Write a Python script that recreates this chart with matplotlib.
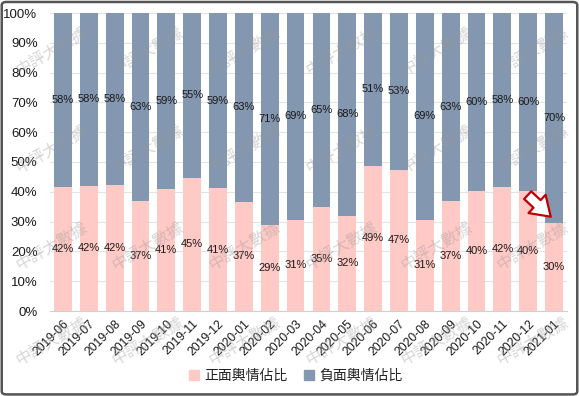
import matplotlib
matplotlib.use('Agg')
import matplotlib.pyplot as plt
import numpy as np
from matplotlib.patches import FancyBboxPatch, Patch

months = ['2019-06', '2019-07', '2019-08', '2019-09', '2019-10', '2019-11', '2019-12',
          '2020-01', '2020-02', '2020-03', '2020-04', '2020-05', '2020-06', '2020-07',
          '2020-08', '2020-09', '2020-10', '2020-11', '2020-12', '2021-01']
positive = [41.6, 42.1, 42.3, 36.9, 40.9, 44.7, 41.2, 36.6, 28.9, 30.6,
            34.8, 32.0, 48.8, 47.4, 30.6, 36.8, 40.4, 41.6, 40.2, 29.6]
negative = [58.4, 57.9, 57.7, 63.1, 59.1, 55.3, 58.8, 63.4, 71.1, 69.4,
            65.2, 68.0, 51.2, 52.6, 69.4, 63.2, 59.6, 58.4, 59.8, 70.4]

pos_color = '#FFC9C5'
neg_color = '#8497B0'
cjk = ['Noto Sans CJK TC', 'DejaVu Sans']
plt.rcParams['font.family'] = ['Liberation Sans', 'Noto Sans CJK TC', 'DejaVu Sans']

W, H = 579, 396
fig = plt.figure(figsize=(W / 100, H / 100), dpi=100)
ax = fig.add_axes([50 / W, 1 - 311 / H, 517 / W, 298 / H])

x = np.arange(len(months))
ax.bar(x, positive, width=0.69, color=pos_color, zorder=2)
ax.bar(x, negative, width=0.69, bottom=positive, color=neg_color, zorder=2)

for i in range(len(months)):
    ax.text(x[i], positive[i] / 2, f'{positive[i]:.0f}%', ha='center', va='center',
            fontsize=8, color='#1a1a1a', zorder=3)
    ax.text(x[i], positive[i] + negative[i] / 2, f'{negative[i]:.0f}%', ha='center',
            va='center', fontsize=8, color='#1a1a1a', zorder=3)

ax.set_xlim(-0.5, len(months) - 0.5)
ax.set_ylim(0, 100)
ax.set_yticks(np.arange(0, 101, 10))
ax.set_yticklabels([f'{v}%' for v in range(0, 101, 10)], fontsize=9.5, color='#1a1a1a')
ax.set_xticks(x)
ax.set_xticklabels(months, rotation=45, ha='right', rotation_mode='anchor',
                   fontsize=8.8, color='#1a1a1a')
ax.tick_params(axis='both', length=0)
ax.tick_params(axis='y', pad=9)
ax.tick_params(axis='x', pad=5)
ax.grid(axis='y', color='#E3E3E3', lw=0.8, zorder=0)
for s in ['top', 'right', 'left']:
    ax.spines[s].set_visible(False)
ax.spines['bottom'].set_color('#D0D0D0')

# red hollow arrow pointing at the last bar
ax.annotate('', xy=(18.95, 31.0), xytext=(17.9, 39.5),
            arrowprops=dict(arrowstyle='simple,head_width=1.2,head_length=0.9,tail_width=0.5',
                            fc='white', ec='#C00000', lw=1.6, mutation_scale=15),
            zorder=4)

# watermarks
for py in [52, 150, 247, 342]:
    for px in [52, 148, 245, 342, 437, 533]:
        fig.text(px / W, 1 - py / H, '中評大數據', rotation=30, ha='center', va='center',
                 fontsize=11.5, color='#999999', alpha=0.4, family=cjk, zorder=10)

handles = [Patch(color=pos_color, label='正面輿情佔比'),
           Patch(color=neg_color, label='負面輿情佔比')]
fig.legend(handles=handles, loc='center', bbox_to_anchor=(296 / W, 1 - 376 / H), ncol=2,
           frameon=False, prop={'family': cjk, 'size': 10}, handlelength=0.7,
           handleheight=0.7, handletextpad=0.4, columnspacing=1.2, labelcolor='#222222')

fig.patches.append(FancyBboxPatch((0.003, 0.004), 0.994, 0.991,
                                  boxstyle='round,pad=0,rounding_size=0.008',
                                  transform=fig.transFigure, fill=False,
                                  ec='#555555', lw=1.8))

fig.savefig('out.png', dpi=100)
